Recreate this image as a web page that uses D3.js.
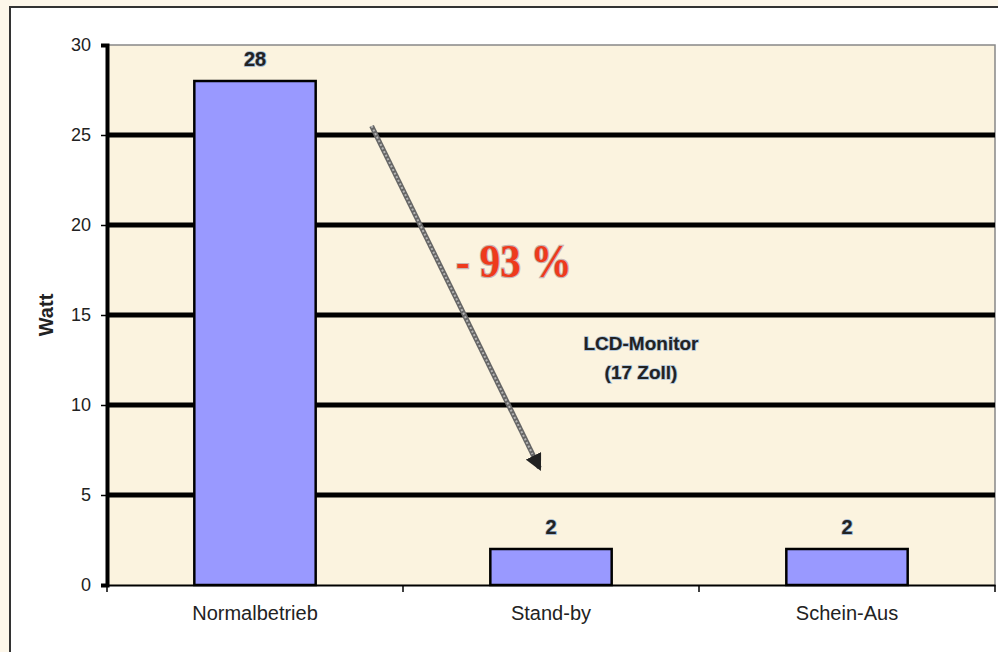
<!DOCTYPE html>
<html>
<head>
<meta charset="utf-8">
<script src="https://cdn.jsdelivr.net/npm/d3@7"></script>
<style>
  html, body { margin: 0; padding: 0; background: #fdf7ea; }
  svg { display: block; }
</style>
</head>
<body>
<div id="chart"></div>
<script>
// data
var categories = ['Normalbetrieb', 'Stand-by', 'Schein-Aus'];
var watts = [28, 2, 2];
var yTicks = [0, 5, 10, 15, 20, 25, 30];
var gridValues = [5, 10, 15, 20, 25];
var arrowFrom = 25.5, arrowTo = 6.5;  // y-values of the arrow ends
var changeLabel = '- 93 %';
var noteLines = ['LCD-Monitor', '(17 Zoll)'];

var W = 998, H = 652;
var plot = { left: 107, right: 995, top: 45, bottom: 585 };

var svg = d3.select('#chart').append('svg')
    .attr('width', W).attr('height', H);

// outer frame
svg.append('rect')
    .attr('x', 10).attr('y', 7).attr('width', 1000).attr('height', 660)
    .attr('fill', '#fff').attr('stroke', '#333').attr('stroke-width', 2);

var x = d3.scaleBand().domain(categories)
    .range([plot.left, plot.right])
    .paddingInner(0.59).paddingOuter(0.295);
var step = x.step();

var y = d3.scaleLinear().domain([0, 30]).range([plot.bottom, plot.top]);

// plot background
svg.append('rect')
    .attr('x', plot.left).attr('y', plot.top)
    .attr('width', plot.right - plot.left).attr('height', plot.bottom - plot.top)
    .attr('fill', '#fbf3df');

// top + right border of plot area
svg.append('path')
    .attr('d', 'M' + plot.left + ',' + y(30) + 'H' + plot.right + 'V' + plot.bottom)
    .attr('fill', 'none').attr('stroke', '#888').attr('stroke-width', 1.5);

// gridlines
svg.selectAll('line.grid').data(gridValues)
  .enter().append('line')
    .attr('class', 'grid')
    .attr('x1', plot.left).attr('x2', plot.right)
    .attr('y1', function(d) { return y(d); })
    .attr('y2', function(d) { return y(d); })
    .attr('stroke', '#000').attr('stroke-width', 5);

// bars
svg.selectAll('rect.bar').data(watts)
  .enter().append('rect')
    .attr('class', 'bar')
    .attr('x', function(d, i) { return x(categories[i]); })
    .attr('y', function(d) { return y(d); })
    .attr('width', x.bandwidth())
    .attr('height', function(d) { return y(0) - y(d); })
    .attr('fill', '#9999ff')
    .attr('stroke', '#000').attr('stroke-width', 2.5);

// value labels
svg.selectAll('text.val').data(watts)
  .enter().append('text')
    .attr('class', 'val')
    .attr('x', function(d, i) { return x(categories[i]) + x.bandwidth() / 2; })
    .attr('y', function(d) { return y(d) - 15; })
    .attr('text-anchor', 'middle')
    .style('font', 'bold 20px "Liberation Sans", Arial, sans-serif')
    .style('fill', '#222')
    .style('paint-order', 'stroke')
    .style('stroke', '#9ab4d0').style('stroke-width', 1.5)
    .text(function(d) { return d; });

// y axis
var yAxis = svg.append('g')
    .attr('transform', 'translate(' + plot.left + ',0)')
    .call(d3.axisLeft(y).tickValues(yTicks).tickSize(6).tickPadding(10));
yAxis.select('.domain').attr('stroke', '#000').attr('stroke-width', 4);
yAxis.selectAll('.tick line').attr('stroke', '#000').attr('stroke-width', 1.5);
yAxis.selectAll('.tick text')
    .style('font', '18px "Liberation Sans", Arial, sans-serif')
    .style('fill', '#222');

// x axis
var xAxis = svg.append('g')
    .attr('transform', 'translate(0,' + plot.bottom + ')')
    .call(d3.axisBottom(x).tickSize(0).tickPadding(21));
xAxis.select('.domain').attr('stroke', '#000').attr('stroke-width', 2);
xAxis.selectAll('.tick text')
    .style('font', '20px "Liberation Sans", Arial, sans-serif')
    .style('fill', '#222');
// tick marks between categories
var bounds = categories.map(function(c) { return x(c) - step * x.paddingOuter(); })
    .concat([plot.right]);
xAxis.selectAll('line.sep').data(bounds)
  .enter().append('line')
    .attr('class', 'sep')
    .attr('x1', function(d) { return d; }).attr('x2', function(d) { return d; })
    .attr('y1', 0).attr('y2', 7)
    .attr('stroke', '#000').attr('stroke-width', 1.5);

// y axis title
svg.append('text')
    .attr('transform', 'translate(53,' + (plot.top + plot.bottom) / 2 + ') rotate(-90)')
    .attr('text-anchor', 'middle')
    .style('font', 'bold 20px "Liberation Sans", Arial, sans-serif')
    .style('fill', '#222')
    .text('Watt');

// arrow
var defs = svg.append('defs');
defs.append('marker')
    .attr('id', 'head')
    .attr('viewBox', '0 0 10 10')
    .attr('refX', 8).attr('refY', 5)
    .attr('markerWidth', 3.4).attr('markerHeight', 3.4)
    .attr('orient', 'auto')
  .append('path')
    .attr('d', 'M0,0L10,5L0,10Z')
    .attr('fill', '#222');

var ax1 = plot.left + (plot.right - plot.left) * 0.298;
var ax2 = plot.left + (plot.right - plot.left) * 0.487;
svg.append('line')
    .attr('x1', ax1).attr('y1', y(arrowFrom))
    .attr('x2', ax2).attr('y2', y(arrowTo))
    .attr('stroke', '#666').attr('stroke-width', 5)
    .attr('marker-end', 'url(#head)');
svg.append('line')
    .attr('x1', ax1).attr('y1', y(arrowFrom))
    .attr('x2', ax2 - 7).attr('y2', y(arrowTo) - 14)
    .attr('stroke', '#b4b4b4').attr('stroke-width', 2)
    .attr('stroke-dasharray', '2,2');

// change label
svg.append('text')
    .attr('transform', 'translate(456,277) scale(1.02,1.16)')
    .style('font', 'bold 40px "Liberation Serif", "Times New Roman", serif')
    .style('fill', '#ee3a1c')
    .style('paint-order', 'stroke')
    .style('stroke', '#c8b4b0').style('stroke-width', 2)
    .text(changeLabel);

// note
svg.append('text')
    .attr('x', 641).attr('y', 350)
    .attr('text-anchor', 'middle')
    .style('font', 'bold 19px "Liberation Sans", Arial, sans-serif')
    .style('fill', '#222')
    .style('paint-order', 'stroke')
    .style('stroke', '#a9bfd6').style('stroke-width', 1.5)
  .selectAll('tspan').data(noteLines)
  .enter().append('tspan')
    .attr('x', 641)
    .attr('dy', function(d, i) { return i ? 29 : 0; })
    .text(function(d) { return d; });
</script>
</body>
</html>
